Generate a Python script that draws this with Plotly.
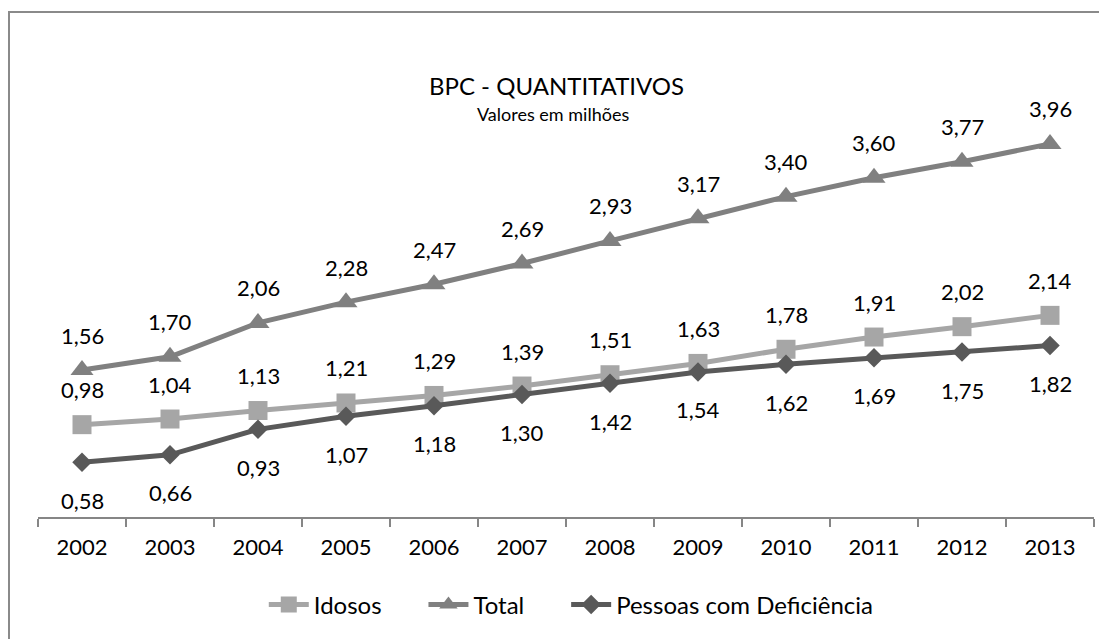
import plotly.graph_objects as go

anos = ["2002", "2003", "2004", "2005", "2006", "2007", "2008", "2009", "2010", "2011", "2012", "2013"]
idosos = [0.98, 1.04, 1.13, 1.21, 1.29, 1.39, 1.51, 1.63, 1.78, 1.91, 2.02, 2.14]
total = [1.56, 1.70, 2.06, 2.28, 2.47, 2.69, 2.93, 3.17, 3.40, 3.60, 3.77, 3.96]
deficiencia = [0.58, 0.66, 0.93, 1.07, 1.18, 1.30, 1.42, 1.54, 1.62, 1.69, 1.75, 1.82]

FONT = "Lato, Open Sans, sans-serif"
C_IDOSOS = "#a6a6a6"
C_TOTAL = "#808080"
C_DEF = "#595959"
NB = "\u00a0"

fig = go.Figure()
fig.add_trace(go.Scatter(x=anos, y=idosos, name="Idosos" + NB * 6, mode="lines+markers",
                         line=dict(color=C_IDOSOS, width=5),
                         marker=dict(symbol="square", size=19, color=C_IDOSOS)))
fig.add_trace(go.Scatter(x=anos, y=total, name="Total" + NB * 6, mode="lines+markers",
                         line=dict(color=C_TOTAL, width=5),
                         marker=dict(symbol="triangle-up", size=20, color=C_TOTAL)))
fig.add_trace(go.Scatter(x=anos, y=deficiencia, name="Pessoas com Deficiência", mode="lines+markers",
                         line=dict(color=C_DEF, width=5),
                         marker=dict(symbol="diamond", size=15, color=C_DEF)))

def fmt(v):
    return f"{v:.2f}".replace(".", ",")

annotations = []
for series, shift in ((total, 35), (idosos, 35), (deficiencia, -38)):
    for i, v in enumerate(series):
        annotations.append(dict(x=i, y=v, xref="x", yref="y", text=fmt(v), showarrow=False, yshift=shift,
                                font=dict(family=FONT, size=22, color="#000000")))

PH = 424.0
annotations += [
    dict(x=0.491, xref="paper", y=1.0 + (93 - 85) / PH, yref="paper", text="BPC - QUANTITATIVOS",
         showarrow=False, xanchor="center", yanchor="middle", font=dict(family=FONT, size=24)),
    dict(x=0.488, xref="paper", y=1.0 - (114 - 93) / PH, yref="paper", text="Valores em milhões",
         showarrow=False, xanchor="center", yanchor="middle", font=dict(family=FONT, size=18)),
]

fig.update_layout(
    width=1107, height=639,
    margin=dict(l=30, r=21, t=85, b=130),
    paper_bgcolor="white", plot_bgcolor="white",
    font=dict(family=FONT, size=22, color="#000000"),
    showlegend=True,
    legend=dict(orientation="h", x=0.505, xanchor="center", y=(517 - 605) / PH, yanchor="middle",
                font=dict(family=FONT, size=24), itemwidth=40, tracegroupgap=0),
    xaxis=dict(type="category", range=[-0.5, 11.5], showline=True, linecolor="#868686", linewidth=2,
               ticks="outside", tickson="boundaries", ticklen=8, tickcolor="#868686", tickwidth=2,
               showgrid=False, zeroline=False, tickfont=dict(family=FONT, size=22), ticklabelstandoff=10),
    yaxis=dict(range=[0, 4.5], showticklabels=False, showline=False, ticks="", showgrid=False,
               zeroline=False),
    annotations=annotations,
    shapes=[dict(type="rect", xref="paper", yref="paper",
                 x0=(9 - 38) / 1056, x1=(1120 - 38) / 1056,
                 y0=(517 - 660) / PH, y1=(517 - 12) / PH,
                 line=dict(color="#8a8a8a", width=2), fillcolor="rgba(0,0,0,0)", layer="below")],
)

fig.write_html("out.html")
